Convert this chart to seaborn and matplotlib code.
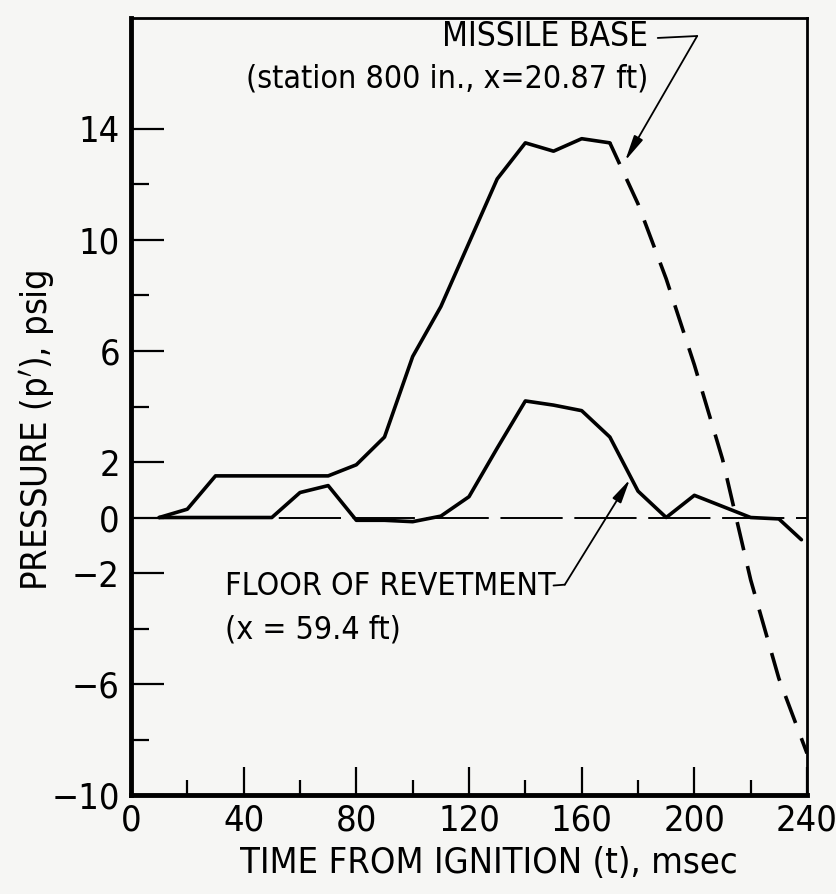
import matplotlib
matplotlib.use("Agg")
import matplotlib.pyplot as plt
from matplotlib import font_manager as fm
import seaborn as sns
import pandas as pd

# ---- data ----
base_t_solid = [10, 20, 30, 40, 50, 60, 70, 80, 90, 100, 110, 120, 130, 140, 150, 160, 170]
base_p_solid = [0.0, 0.3, 1.5, 1.5, 1.5, 1.5, 1.5, 1.9, 2.9, 5.8, 7.6, 9.9, 12.2, 13.5, 13.2, 13.65, 13.5]
base_t_dash = [170, 180, 190, 200, 210, 220, 230, 240]
base_p_dash = [13.5, 11.3, 8.6, 5.5, 2.1, -2.25, -5.8, -8.5]

floor_t = [10, 20, 30, 40, 50, 60, 70, 80, 90, 100, 110, 120, 130, 140, 150, 160, 170, 180, 190, 200, 210, 220, 230, 238]
floor_p = [0.0, 0.0, 0.0, 0.0, 0.0, 0.9, 1.15, -0.1, -0.1, -0.15, 0.05, 0.75, 2.5, 4.2, 4.05, 3.85, 2.9, 0.95, 0.0, 0.8, 0.4, 0.0, -0.05, -0.8]

y_major = [14, 10, 6, 2, 0, -2, -6, -10]
y_minor = [12, 8, 4, -4, -8]
x_major = [0, 40, 80, 120, 160, 200, 240]
x_minor = [20, 60, 100, 140, 180, 220]

sns.set_theme(style="white")

entries = fm.fontManager.ttflist
cond = [f for f in entries if str(f.stretch) in ('condensed', 'semi-condensed', 'extra-condensed') or
        any(k in f.name for k in ('Narrow', 'Condensed'))]
if cond:
    fam = cond[0].name
    plt.rcParams['font.family'] = [fam, 'DejaVu Sans']
    plt.rcParams['font.stretch'] = 'condensed'
    FS = 26
    AFS = 23
else:
    plt.rcParams['font.family'] = ['DejaVu Sans']
    FS = 22
    AFS = 20

bg = '#f6f6f4'
fig = plt.figure(figsize=(8.37, 8.94), dpi=100, facecolor=bg)
ax = fig.add_axes([0.1565, 0.1107, 0.8077, 0.8692])
ax.set_facecolor(bg)

df_solid = pd.DataFrame({'t': base_t_solid, 'p': base_p_solid})
df_dash = pd.DataFrame({'t': base_t_dash, 'p': base_p_dash})
df_floor = pd.DataFrame({'t': floor_t, 'p': floor_p})

ax.axhline(0, color='black', lw=1.4, linestyle=(0, (32, 6)), zorder=1)
sns.lineplot(data=df_solid, x='t', y='p', ax=ax, color='black', lw=2.6, sort=False, zorder=3)
sns.lineplot(data=df_dash, x='t', y='p', ax=ax, color='black', lw=2.6, sort=False,
             linestyle=(1.5, (8, 4.5)), zorder=3)
sns.lineplot(data=df_floor, x='t', y='p', ax=ax, color='black', lw=2.6, sort=False, zorder=3)

ax.set_xlim(0, 240)
ax.set_ylim(-10, 18)

ax.set_xticks(x_major)
ax.set_xticks(x_minor, minor=True)
ax.set_yticks(y_major)
ax.set_yticks(y_minor, minor=True)
ax.set_xticklabels([str(v) for v in x_major])
ax.set_yticklabels([str(v).replace('-', '\u2212') for v in y_major])

ax.tick_params(axis='both', which='both', direction='in', color='black', width=1.6,
               labelsize=FS, labelcolor='black')
ax.tick_params(axis='x', which='major', length=20, pad=6)
ax.tick_params(axis='x', which='minor', length=11)
ax.tick_params(axis='y', which='major', length=24, pad=8)
ax.tick_params(axis='y', which='minor', length=13)
ax.tick_params(axis='both', which='both', top=False, right=False, bottom=True, left=True)

for side in ['left', 'bottom']:
    ax.spines[side].set_linewidth(3.5)
    ax.spines[side].set_color('black')
for side in ['top', 'right']:
    ax.spines[side].set_linewidth(2.0)
    ax.spines[side].set_color('black')

ax.set_xlabel('TIME FROM IGNITION (t), msec', fontsize=FS, color='black')
ax.xaxis.set_label_coords(0.53, -0.065)
ax.set_ylabel("PRESSURE (p$'$), psig", fontsize=FS, color='black')
ax.yaxis.set_label_coords(-0.11, 0.47)

# annotations
t1 = ax.text(183.5, 17.33, 'MISSILE BASE', ha='right', va='center', fontsize=AFS + 1, color='black')
ax.text(183.5, 15.8, '(station 800 in., x=20.87 ft)', ha='right', va='center', fontsize=AFS, color='black')
ax.plot([187, 201], [17.28, 17.35], color='black', lw=1.3)
ax.annotate('', xy=(175.4, 12.85), xytext=(201, 17.35),
            arrowprops=dict(arrowstyle='-|>,head_length=1.3,head_width=0.25', color='black', lw=1.3,
                            shrinkA=0, shrinkB=0))

t2 = ax.text(33.4, -2.48, 'FLOOR OF REVETMENT', ha='left', va='center', fontsize=AFS, color='black')
ax.text(33.4, -4.04, '(x = 59.4 ft)', ha='left', va='center', fontsize=AFS, color='black')

fig.canvas.draw()
r = fig.canvas.get_renderer()
bb = t2.get_window_extent(renderer=r)
x_end_data = ax.transData.inverted().transform((bb.x1 + 5, 0))[0]
ax.plot([min(x_end_data, 150), 154], [-2.45, -2.42], color='black', lw=1.3)
ax.annotate('', xy=(177.1, 1.37), xytext=(154, -2.42),
            arrowprops=dict(arrowstyle='-|>,head_length=1.2,head_width=0.25', color='black', lw=1.3,
                            shrinkA=0, shrinkB=0))

fig.savefig('out.png', dpi=100, facecolor=bg)
